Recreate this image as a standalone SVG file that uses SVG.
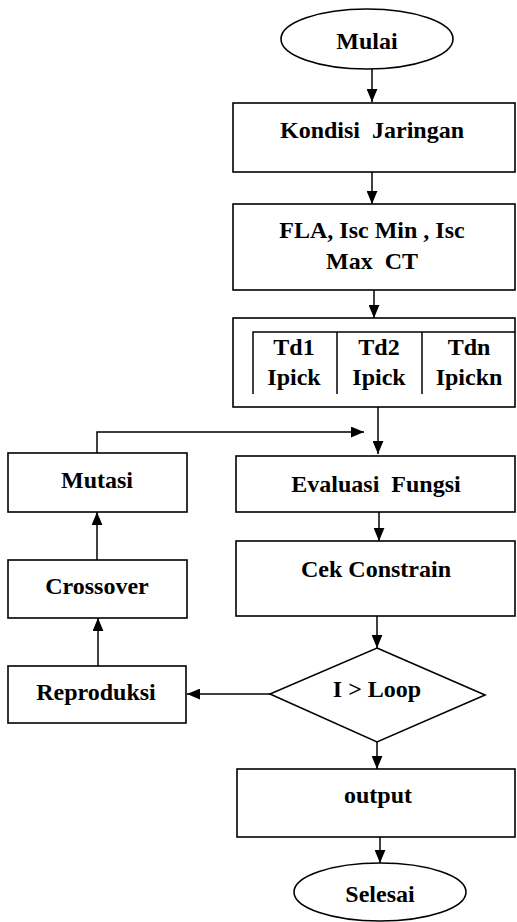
<svg xmlns="http://www.w3.org/2000/svg" width="517" height="922" viewBox="0 0 517 922">
<defs>
<style>
.box{fill:#fff;stroke:#000;stroke-width:1.6}
.ln{fill:none;stroke:#000;stroke-width:1.5}
.t{font-family:"Liberation Serif","DejaVu Serif","Times New Roman",serif;font-weight:bold;font-size:24px;text-anchor:middle;fill:#000;white-space:pre}
.c{fill:none;stroke:#000;stroke-width:1.5;marker-end:url(#ah)}
</style>
<marker id="ah" viewBox="0 0 12 10" refX="12" refY="5" markerWidth="13" markerHeight="11" markerUnits="userSpaceOnUse" orient="auto">
<path d="M0,0 L12,5 L0,10 Z" fill="#000"/>
</marker>
</defs>
<rect width="517" height="922" fill="#fff"/>
<g id="connectors">
<line class="c" x1="372" y1="69" x2="372" y2="102"/>
<line class="c" x1="372" y1="172" x2="372" y2="204"/>
<line class="c" x1="374" y1="290" x2="374" y2="318"/>
<line class="c" x1="378" y1="407" x2="378" y2="454"/>
<polyline class="c" points="97,453 97,432 364,432"/>
<line class="c" x1="379" y1="512" x2="379" y2="541"/>
<line class="c" x1="377" y1="616" x2="377" y2="648"/>
<line class="c" x1="270" y1="694" x2="187" y2="694"/>
<line class="c" x1="98" y1="666" x2="98" y2="618"/>
<line class="c" x1="97" y1="560" x2="97" y2="512"/>
<line class="c" x1="377" y1="742" x2="377" y2="769"/>
<line class="c" x1="380" y1="837" x2="380" y2="863"/>
</g>
<g id="mulai">
<ellipse class="box" cx="367" cy="39" rx="86" ry="30"/>
<text class="t" x="367" y="49">Mulai</text>
</g>
<g id="kondisi">
<rect class="box" x="233" y="103" width="282" height="69"/>
<text class="t" x="372" y="138" xml:space="preserve">Kondisi  Jaringan</text>
</g>
<g id="fla">
<rect class="box" x="233" y="204" width="282" height="86"/>
<text class="t" x="372" y="238">FLA, Isc Min , Isc</text>
<text class="t" x="372" y="269" xml:space="preserve">Max  CT</text>
</g>
<g id="td">
<rect class="box" x="233" y="318" width="282" height="89"/>
<polyline class="ln" points="253,394 253,332 515,332"/>
<line class="ln" x1="337" y1="332" x2="337" y2="394"/>
<line class="ln" x1="422" y1="332" x2="422" y2="394"/>
<text class="t" x="294" y="355">Td1</text>
<text class="t" x="294" y="385">Ipick</text>
<text class="t" x="379" y="355">Td2</text>
<text class="t" x="379" y="385">Ipick</text>
<text class="t" x="469" y="355">Tdn</text>
<text class="t" x="469" y="385">Ipickn</text>
</g>
<g id="mutasi">
<rect class="box" x="8" y="453" width="179" height="59"/>
<text class="t" x="97" y="488">Mutasi</text>
</g>
<g id="evaluasi">
<rect class="box" x="236" y="456" width="279" height="56"/>
<text class="t" x="376" y="492" xml:space="preserve">Evaluasi  Fungsi</text>
</g>
<g id="crossover">
<rect class="box" x="8" y="560" width="179" height="58"/>
<text class="t" x="97" y="594">Crossover</text>
</g>
<g id="cek">
<rect class="box" x="236" y="541" width="279" height="75"/>
<text class="t" x="376" y="577">Cek Constrain</text>
</g>
<g id="loop">
<polygon class="box" points="377,648 485,695 377,742 270,694"/>
<text class="t" x="377" y="697">I &gt; Loop</text>
</g>
<g id="reproduksi">
<rect class="box" x="8" y="666" width="178" height="57"/>
<text class="t" x="96" y="700">Reproduksi</text>
</g>
<g id="output">
<rect class="box" x="237" y="769" width="278" height="68"/>
<text class="t" x="378" y="803">output</text>
</g>
<g id="selesai">
<ellipse class="box" cx="380" cy="892" rx="86" ry="29"/>
<text class="t" x="380" y="902">Selesai</text>
</g>
</svg>
